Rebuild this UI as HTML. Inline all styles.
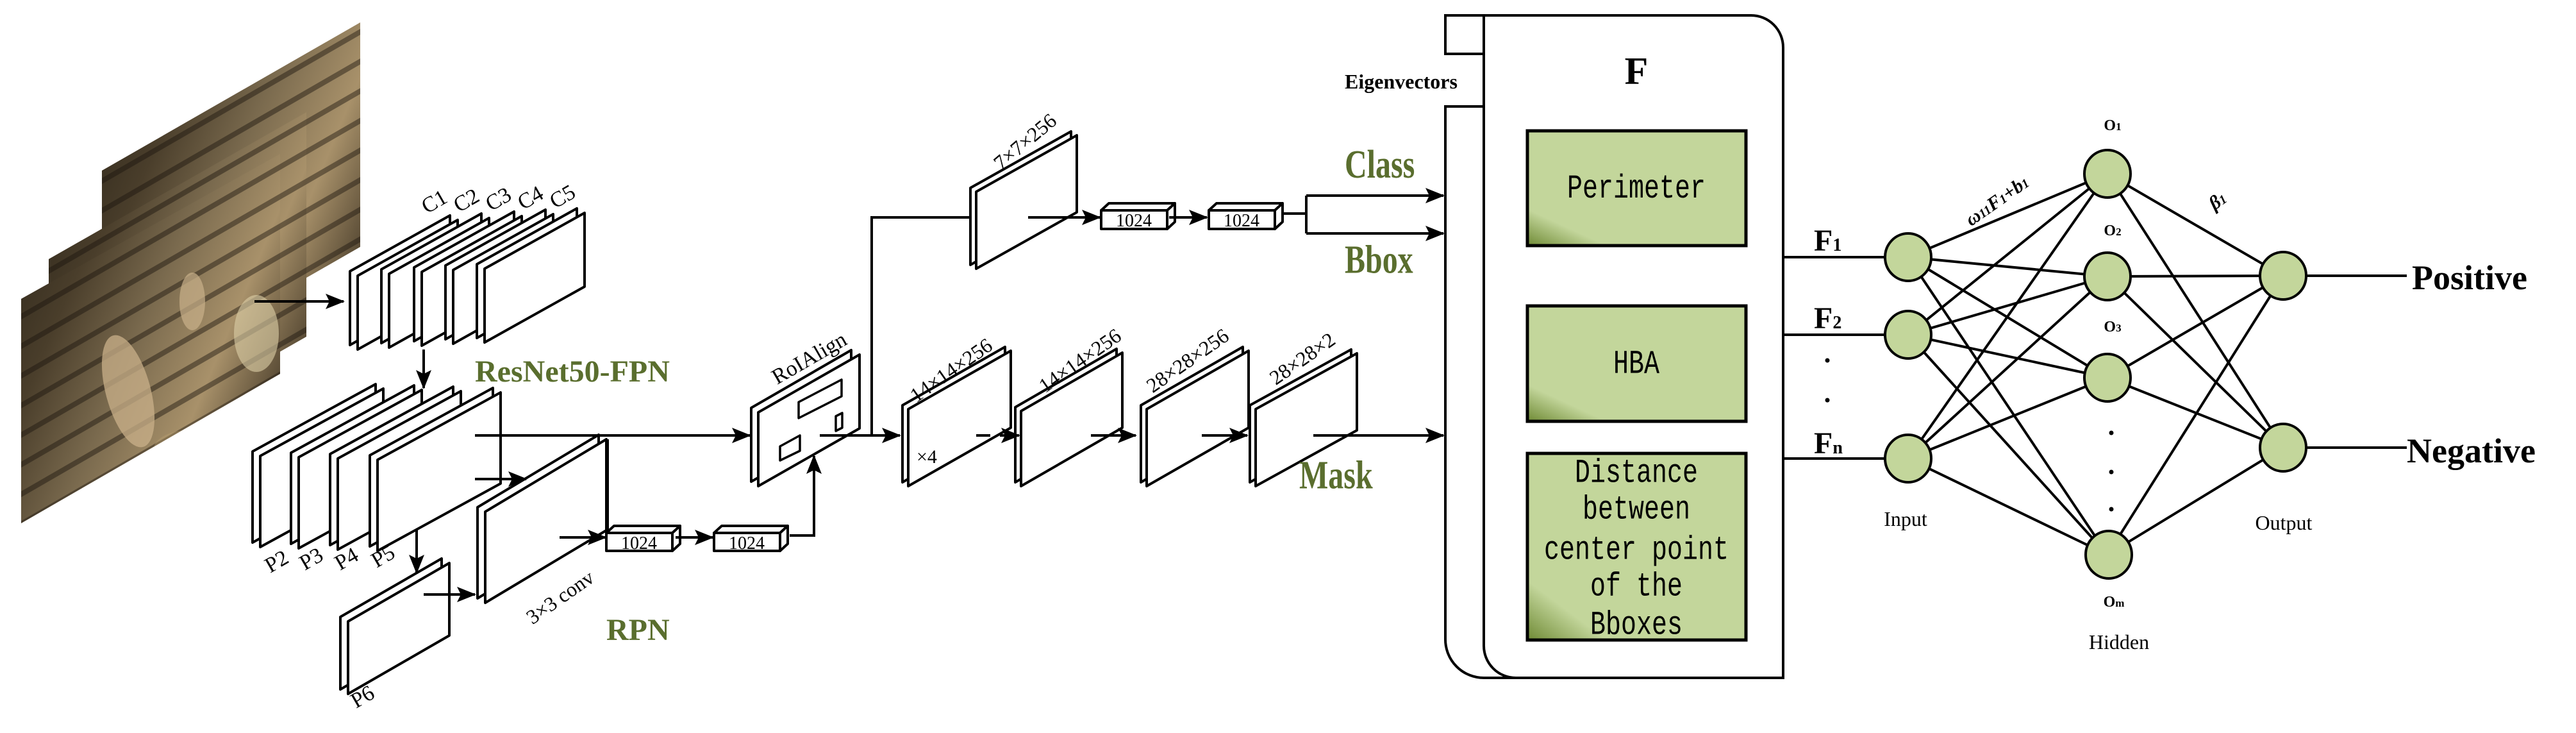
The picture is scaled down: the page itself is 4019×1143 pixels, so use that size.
<!DOCTYPE html>
<html><head><meta charset="utf-8"><style>
html,body{margin:0;padding:0;background:#fff;}
svg{display:block}
text{font-family:"Liberation Serif",serif;}
</style></head><body>
<svg width="4019" height="1143" viewBox="0 0 4019 1143" xmlns="http://www.w3.org/2000/svg">
<defs>
<marker id="ah" markerUnits="userSpaceOnUse" markerWidth="30" markerHeight="24" refX="28" refY="12" orient="auto">
<path d="M0,0 L30,12 L0,24 L6,12 Z" fill="#000"/></marker>
<linearGradient id="ph" x1="0" y1="0" x2="1" y2="0.6">
<stop offset="0" stop-color="#2a2318"/><stop offset="0.3" stop-color="#4a3e2b"/><stop offset="0.55" stop-color="#7a6a4e"/><stop offset="0.8" stop-color="#a8916a"/><stop offset="1" stop-color="#5a4c36"/></linearGradient>
<pattern id="st" width="40" height="40" patternUnits="userSpaceOnUse" patternTransform="rotate(-30)">
<rect width="40" height="40" fill="none"/><rect width="40" height="8" fill="#1a150e" opacity="0.45"/></pattern>
<clipPath id="fc"><polygon points="33,466 437,240 437,583 33,816"/></clipPath>
<linearGradient id="gb" x1="0" y1="1" x2="0.35" y2="0.6">
<stop offset="0" stop-color="#6f8a35"/><stop offset="0.45" stop-color="#c3d69b"/><stop offset="1" stop-color="#c3d69b"/></linearGradient>
</defs>

<!-- photos -->
<polygon points="159,266 562,35 562,385 159,616" fill="url(#ph)"/>
<polygon points="159,266 562,35 562,385 159,616" fill="url(#st)"/>
<polygon points="76,404 478,175 478,525 76,754" fill="url(#ph)"/>
<polygon points="76,404 478,175 478,525 76,754" fill="url(#st)"/>
<polygon points="33,466 437,240 437,583 33,816" fill="url(#ph)"/>
<g clip-path="url(#fc)">
<polygon points="33,466 437,240 437,583 33,816" fill="url(#st)"/>
<ellipse cx="200" cy="610" rx="35" ry="90" fill="#c9b08a" opacity="0.75" transform="rotate(-15 200 610)"/>
<ellipse cx="300" cy="470" rx="20" ry="45" fill="#c9b08a" opacity="0.7"/>
<ellipse cx="400" cy="520" rx="35" ry="60" fill="#ddd0a8" opacity="0.6"/>
<ellipse cx="300" cy="700" rx="60" ry="30" fill="#b8a070" opacity="0.4"/>
</g>

<g stroke="#000" stroke-width="4" fill="#fff" stroke-linejoin="round">
<polygon points="546,423 702,336 702,451 546,538"/><polygon points="558,430 714,343 714,458 558,545"/>
<polygon points="595,420 751,333 751,448 595,535"/><polygon points="607,427 763,340 763,455 607,542"/>
<polygon points="646,417 802,330 802,445 646,532"/><polygon points="658,424 814,337 814,452 658,539"/>
<polygon points="695,414 851,327 851,442 695,529"/><polygon points="707,421 863,334 863,449 707,536"/>
<polygon points="744,412 900,325 900,440 744,527"/><polygon points="756,419 912,332 912,447 756,534"/>
<polygon points="394,704 586,599 586,741 394,846"/><polygon points="406,711 598,606 598,748 406,853"/>
<polygon points="454,706 646,601 646,743 454,848"/><polygon points="466,713 658,608 658,750 466,855"/>
<polygon points="515,708 707,603 707,745 515,850"/><polygon points="527,715 719,610 719,752 527,857"/>
<polygon points="577,710 769,605 769,747 577,852"/><polygon points="589,717 781,612 781,754 589,859"/>
<polygon points="531,962 689,871 689,984 531,1075"/><polygon points="543,969 701,878 701,991 543,1082"/>
<polygon points="745,791 934,678 934,820 745,933"/><polygon points="757,798 946,685 946,827 757,940"/>
<polygon points="1172,636 1328,546 1328,663 1172,751"/><polygon points="1183,643 1341,553 1341,668 1183,758"/>
<polygon points="1246,627 1313,592 1313,618 1246,652" stroke-width="3.5"/>
<polygon points="1217,696 1248,679 1248,703 1217,718" stroke-width="3.5"/>
<polygon points="1304,649 1314,644 1314,667 1304,672" stroke-width="3.5"/>
<polygon points="1514,293 1671,205 1671,325 1514,413"/><polygon points="1523,299 1680,211 1680,331 1523,419"/>
<polygon points="1408,632 1568,541 1568,661 1408,752"/><polygon points="1417,638 1577,547 1577,667 1417,758"/>
<polygon points="1584,635 1742,544 1742,661 1584,752"/><polygon points="1593,641 1751,550 1751,667 1593,758"/>
<polygon points="1780,632 1939,541 1939,661 1780,752"/><polygon points="1789,638 1948,547 1948,667 1789,758"/>
<polygon points="1950,632 2108,545 2108,665 1950,752"/><polygon points="1959,638 2117,551 2117,671 1959,758"/>
<rect x="946" y="831" width="103" height="28"/><polygon points="946,831 958,820 1061,820 1049,831"/><polygon points="1049,831 1061,820 1061,848 1049,859"/>
<rect x="1114" y="831" width="103" height="28"/><polygon points="1114,831 1126,820 1229,820 1217,831"/><polygon points="1217,831 1229,820 1229,848 1217,859"/>
<rect x="1718" y="328" width="103" height="29"/><polygon points="1718,328 1730,317 1833,317 1821,328"/><polygon points="1821,328 1833,317 1833,346 1821,357"/>
<rect x="1886" y="328" width="103" height="29"/><polygon points="1886,328 1898,317 2001,317 1989,328"/><polygon points="1989,328 2001,317 2001,346 1989,357"/>
</g>

<g stroke="#000" stroke-width="4" fill="none">
<line x1="397" y1="470" x2="536" y2="470" marker-end="url(#ah)"/>
<line x1="661" y1="545" x2="661" y2="605" marker-end="url(#ah)"/>
<line x1="741" y1="679" x2="1170" y2="679" marker-end="url(#ah)"/>
<line x1="741" y1="747" x2="821" y2="747" marker-end="url(#ah)"/>
<line x1="781" y1="612" x2="781" y2="747"/>
<line x1="948" y1="685" x2="948" y2="831"/>
<line x1="873" y1="838" x2="945" y2="838" marker-end="url(#ah)"/>
<line x1="661" y1="927" x2="741" y2="927" marker-end="url(#ah)"/>
<line x1="650" y1="827" x2="650" y2="893" marker-end="url(#ah)"/>
<line x1="1054" y1="838" x2="1112" y2="838" marker-end="url(#ah)"/>
<polyline points="1232,835 1270,835 1270,711" marker-end="url(#ah)"/>
<line x1="1279" y1="679" x2="1404" y2="679" marker-end="url(#ah)"/>
<polyline points="1512,339 1360,339 1360,679"/>
<line x1="1604" y1="339" x2="1716" y2="339" marker-end="url(#ah)"/>
<line x1="1824" y1="339" x2="1883" y2="339" marker-end="url(#ah)"/>
<polyline points="2003,333 2038,333"/>
<polyline points="2038,305 2038,364"/>
<line x1="2038" y1="305" x2="2252" y2="305" marker-end="url(#ah)"/>
<line x1="2038" y1="364" x2="2252" y2="364" marker-end="url(#ah)"/>
<line x1="1523" y1="679" x2="1545" y2="679"/>
<line x1="1560" y1="679" x2="1590" y2="679" marker-end="url(#ah)"/>
<line x1="1702" y1="679" x2="1772" y2="679" marker-end="url(#ah)"/>
<line x1="1875" y1="679" x2="1946" y2="679" marker-end="url(#ah)"/>
<line x1="2049" y1="679" x2="2252" y2="679" marker-end="url(#ah)"/>
</g>

<g stroke="#000" stroke-width="4" fill="#fff">
<path d="M2315,24 H2255 V84 H2315" fill="none"/>
<path d="M2315,166 H2255 V997 A60,60 0 0 0 2315,1057 H2782"/>
<path d="M2315,24 H2732 A50,50 0 0 1 2782,74 V1057 H2365 A50,50 0 0 1 2315,1007 Z"/>
<rect x="2383" y="204" width="341" height="179" fill="url(#gb)" stroke-width="5"/>
<rect x="2383" y="477" width="341" height="180" fill="url(#gb)" stroke-width="5"/>
<rect x="2383" y="707" width="341" height="291" fill="url(#gb)" stroke-width="5"/>
</g>
<g font-size="40" text-anchor="middle" fill="#000" style="font-family:'Liberation Mono',monospace">
<text x="2553" y="310" style="font-family:'Liberation Mono',monospace" transform="translate(0,-95) scale(1,1.3)">Perimeter</text>
<text x="2553" y="582" style="font-family:'Liberation Mono',monospace" transform="translate(0,-175) scale(1,1.3)">HBA</text>
<g transform="translate(0,-225) scale(1,1.3)">
<text x="2553" y="751" style="font-family:'Liberation Mono',monospace" transform="translate(0,0)">Distance</text>
</g>
<g transform="translate(0,-243) scale(1,1.3)"><text x="2553" y="809" style="font-family:'Liberation Mono',monospace">between</text></g>
<g transform="translate(0,-261) scale(1,1.3)"><text x="2553" y="871" style="font-family:'Liberation Mono',monospace">center point</text></g>
<g transform="translate(0,-279) scale(1,1.3)"><text x="2553" y="929" style="font-family:'Liberation Mono',monospace">of the</text></g>
<g transform="translate(0,-296) scale(1,1.3)"><text x="2553" y="988" style="font-family:'Liberation Mono',monospace">Bboxes</text></g>
</g>

<g stroke="#000" stroke-width="4">
<line x1="2782" y1="401" x2="2977" y2="401"/>
<line x1="2782" y1="522" x2="2977" y2="522"/>
<line x1="2782" y1="715" x2="2977" y2="715"/>
<line x1="2977" y1="401" x2="3288" y2="271"/><line x1="2977" y1="401" x2="3288" y2="431"/><line x1="2977" y1="401" x2="3288" y2="589"/><line x1="2977" y1="401" x2="3288" y2="865"/>
<line x1="2977" y1="522" x2="3288" y2="271"/><line x1="2977" y1="522" x2="3288" y2="431"/><line x1="2977" y1="522" x2="3288" y2="589"/><line x1="2977" y1="522" x2="3288" y2="865"/>
<line x1="2977" y1="715" x2="3288" y2="271"/><line x1="2977" y1="715" x2="3288" y2="431"/><line x1="2977" y1="715" x2="3288" y2="589"/><line x1="2977" y1="715" x2="3288" y2="865"/>
<line x1="3288" y1="271" x2="3562" y2="430"/><line x1="3288" y1="271" x2="3562" y2="698"/>
<line x1="3288" y1="431" x2="3562" y2="430"/><line x1="3288" y1="431" x2="3562" y2="698"/>
<line x1="3288" y1="589" x2="3562" y2="430"/><line x1="3288" y1="589" x2="3562" y2="698"/>
<line x1="3288" y1="865" x2="3562" y2="430"/><line x1="3288" y1="865" x2="3562" y2="698"/>
<line x1="3562" y1="430" x2="3755" y2="430"/><line x1="3562" y1="698" x2="3755" y2="698"/>
</g>
<g stroke="#000" stroke-width="4" fill="#c3d69b">
<ellipse cx="2977" cy="401" rx="36" ry="37"/><ellipse cx="2977" cy="522" rx="36" ry="37"/><ellipse cx="2977" cy="715" rx="36" ry="37"/>
<ellipse cx="3288" cy="271" rx="36" ry="37"/><ellipse cx="3288" cy="431" rx="36" ry="37"/><ellipse cx="3288" cy="589" rx="36" ry="37"/><ellipse cx="3290" cy="865" rx="36" ry="37"/>
<ellipse cx="3562" cy="430" rx="36" ry="37"/><ellipse cx="3562" cy="698" rx="36" ry="37"/>
</g>
<g fill="#000">
<circle cx="2851" cy="562" r="3.5"/><circle cx="2851" cy="624" r="3.5"/>
<circle cx="3294" cy="675" r="3.5"/><circle cx="3294" cy="736" r="3.5"/><circle cx="3294" cy="794" r="3.5"/>
</g>

<g fill="#000">
<text x="683" y="324" font-size="34" transform="rotate(-30 683 324)" text-anchor="middle">C1</text>
<text x="733" y="322" font-size="34" transform="rotate(-30 733 322)" text-anchor="middle">C2</text>
<text x="783" y="320" font-size="34" transform="rotate(-30 783 320)" text-anchor="middle">C3</text>
<text x="833" y="318" font-size="34" transform="rotate(-30 833 318)" text-anchor="middle">C4</text>
<text x="883" y="316" font-size="34" transform="rotate(-30 883 316)" text-anchor="middle">C5</text>
<text x="437" y="885" font-size="34" transform="rotate(-30 437 885)" text-anchor="middle">P2</text>
<text x="491" y="881" font-size="34" transform="rotate(-30 491 881)" text-anchor="middle">P3</text>
<text x="546" y="881" font-size="34" transform="rotate(-30 546 881)" text-anchor="middle">P4</text>
<text x="603" y="877" font-size="34" transform="rotate(-30 603 877)" text-anchor="middle">P5</text>
<text x="571" y="1096" font-size="34" transform="rotate(-30 571 1096)" text-anchor="middle">P6</text>
<text x="880" y="940" font-size="32" transform="rotate(-35 880 940)" text-anchor="middle">3×3 conv</text>
<text x="1268" y="568" font-size="34" transform="rotate(-30 1268 568)" text-anchor="middle">RoIAlign</text>
<text x="1606" y="229" font-size="32" transform="rotate(-40 1606 229)" text-anchor="middle">7×7×256</text>
<text x="1490" y="586" font-size="32" transform="rotate(-35 1490 586)" text-anchor="middle">14×14×256</text>
<text x="1691" y="571" font-size="32" transform="rotate(-35 1691 571)" text-anchor="middle">14×14×256</text>
<text x="1859" y="571" font-size="32" transform="rotate(-35 1859 571)" text-anchor="middle">28×28×256</text>
<text x="2038" y="568" font-size="32" transform="rotate(-35 2038 568)" text-anchor="middle">28×28×2</text>
<text x="1430" y="722" font-size="30">×4</text>
<g font-size="28" text-anchor="middle">
<text x="997" y="856">1024</text><text x="1165" y="856">1024</text>
<text x="1769" y="353">1024</text><text x="1937" y="353">1024</text>
</g>
<g fill="#5a6e2e" font-weight="bold" font-size="48">
<text x="741" y="595">ResNet50-FPN</text>
<text x="946" y="998">RPN</text>
<text x="2098" y="277" transform="translate(0,-83) scale(1,1.3)">Class</text>
<text x="2098" y="425" transform="translate(0,-127) scale(1,1.3)">Bbox</text>
<text x="2027" y="762" transform="translate(0,-229) scale(1,1.3)">Mask</text>
</g>
<text x="2098" y="138" font-size="32" font-weight="bold">Eigenvectors</text>
<text x="2553" y="131" font-size="60" font-weight="bold" text-anchor="middle">F</text>
<g font-weight="bold" font-size="48">
<text x="2830" y="391">F<tspan font-size="28">1</tspan></text>
<text x="2830" y="512">F<tspan font-size="28">2</tspan></text>
<text x="2830" y="707">F<tspan font-size="28">n</tspan></text>
</g>
<g font-size="24" text-anchor="middle" font-weight="bold">
<text x="3296" y="203">O<tspan font-size="17">1</tspan></text>
<text x="3296" y="367">O<tspan font-size="17">2</tspan></text>
<text x="3296" y="517">O<tspan font-size="17">3</tspan></text>
<text x="3298" y="946">O<tspan font-size="17">m</tspan></text>
</g>
<text x="3118" y="322" font-size="30" font-weight="bold" font-style="italic" text-anchor="middle" transform="rotate(-35 3118 316)">ω<tspan font-size="20">11</tspan>F<tspan font-size="20">1</tspan>+b<tspan font-size="20">1</tspan></text>
<text x="3462" y="322" font-size="30" font-weight="bold" font-style="italic" text-anchor="middle" transform="rotate(-35 3462 316)">β<tspan font-size="20">1</tspan></text>
<g font-size="32" text-anchor="middle">
<text x="2973" y="820">Input</text>
<text x="3306" y="1012">Hidden</text>
<text x="3563" y="826">Output</text>
</g>
<g font-size="54" font-weight="bold">
<text x="3763" y="451">Positive</text>
<text x="3755" y="721">Negative</text>
</g>
</g>
</svg>
</body></html>
